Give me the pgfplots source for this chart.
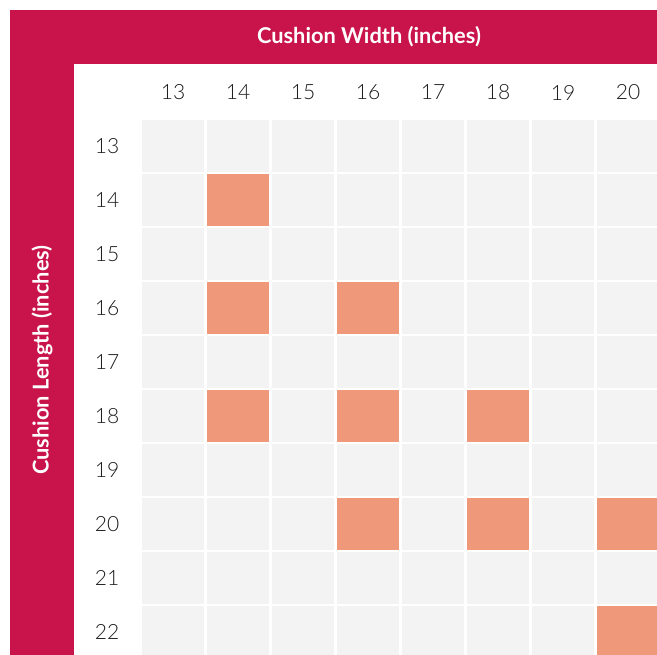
\documentclass[border=0pt]{standalone}
\usepackage{fontspec}
\setmainfont{Lato}
\newfontfamily\numfont{Lato Light}
\usepackage{pgfplots}
\pgfplotsset{compat=1.18}
\definecolor{crimson}{HTML}{C8144A}
\definecolor{salmon}{HTML}{F0997A}
\definecolor{cellgray}{HTML}{F3F3F3}
\definecolor{numtext}{HTML}{1A1A1A}
\pgfdeclareplotmark{cell}{\pgfpathrectangle{\pgfqpoint{-31pt}{-25.75pt}}{\pgfqpoint{62pt}{51.5pt}}\pgfusepathqfill}
\pgfplotstableread{
w l
13 13
14 13
15 13
16 13
17 13
18 13
19 13
20 13
13 14
14 14
15 14
16 14
17 14
18 14
19 14
20 14
13 15
14 15
15 15
16 15
17 15
18 15
19 15
20 15
13 16
14 16
15 16
16 16
17 16
18 16
19 16
20 16
13 17
14 17
15 17
16 17
17 17
18 17
19 17
20 17
13 18
14 18
15 18
16 18
17 18
18 18
19 18
20 18
13 19
14 19
15 19
16 19
17 19
18 19
19 19
20 19
13 20
14 20
15 20
16 20
17 20
18 20
19 20
20 20
13 21
14 21
15 21
16 21
17 21
18 21
19 21
20 21
13 22
14 22
15 22
16 22
17 22
18 22
19 22
20 22
}\allcells
\pgfplotstableread{
w l
14 14
14 16
16 16
14 18
16 18
18 18
16 20
18 20
20 20
20 22
}\sizes
\begin{document}
\begin{tikzpicture}
\begin{axis}[
  width=657pt, height=655pt, scale only axis,
  xmin=10.33846, xmax=20.44615, ymin=10.2963, ymax=22.42593,
  y dir=reverse,
  axis line style={draw=none}, tick style={draw=none},
  clip marker paths=true,
  xtick={13,...,20}, ytick={13,...,22},
  /pgf/number format/assume math mode=true,
  xticklabel style={font=\numfont\fontsize{21}{25}\selectfont, text=numtext, anchor=center, yshift=562.5pt},
  yticklabel style={font=\numfont\fontsize{21}{25}\selectfont, text=numtext, anchor=center, xshift=107pt},
]
\fill[crimson] (axis description cs:0.01522,0.98473) rectangle (axis description cs:1,0.90229);
\fill[crimson] (axis description cs:0.01522,0.98473) rectangle (axis description cs:0.11263,0);
\addplot[only marks, mark=cell, color=cellgray] table[x=w, y=l] {\allcells};
\addplot[only marks, mark=cell, color=salmon] table[x=w, y=l] {\sizes};
\node[text=white, font=\fontsize{21.8}{26}\selectfont\bfseries] at (axis description cs:0.5616,0.9435) {Cushion Width (inches)};
\node[text=white, font=\fontsize{21.8}{26}\selectfont\bfseries, rotate=90] at (axis description cs:0.0639,0.4504) {Cushion Length (inches)};
\end{axis}
\end{tikzpicture}
\end{document}
